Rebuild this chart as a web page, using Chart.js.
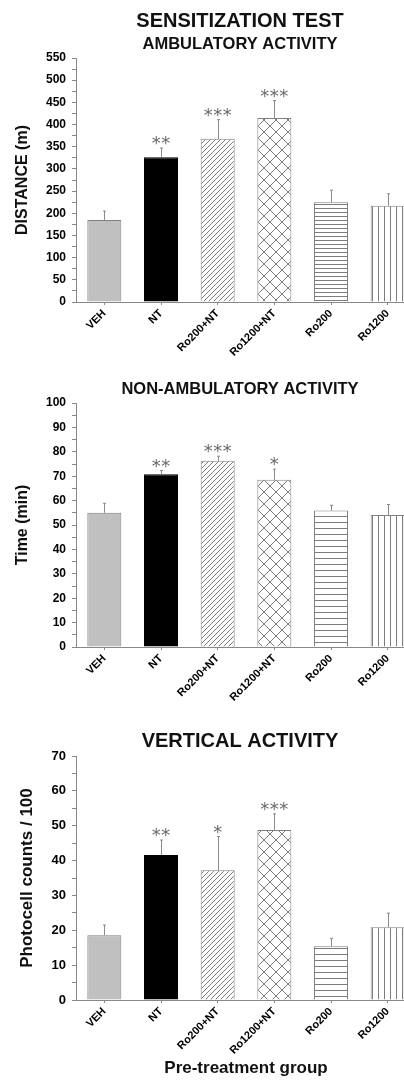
<!DOCTYPE html>
<html>
<head>
<meta charset="utf-8">
<script src="https://cdn.jsdelivr.net/npm/chart.js@4/dist/chart.umd.min.js"></script>
<style>
  html, body { margin: 0; padding: 0; background: #fff; overflow: hidden; width: 404px; height: 1081px; }
  .panel { position: absolute; left: 0; }
</style>
</head>
<body>
<div class="panel" style="top:0"><canvas id="amb" width="480" height="360"></canvas></div>
<div class="panel" style="top:360px"><canvas id="nonamb" width="480" height="360"></canvas></div>
<div class="panel" style="top:720px"><canvas id="vert" width="480" height="361"></canvas></div>
<script>
const groups = ['VEH', 'NT', 'Ro200+NT', 'Ro1200+NT', 'Ro200', 'Ro1200'];

// ambulatory activity, distance (m)
const ambMean = [185, 326, 368, 415, 225, 217];
const ambSem = [20, 21, 43, 39, 27, 27];
const ambStars = ['', '**', '***', '***', '', ''];
const ambMax = 550, ambStep = 50;

// non-ambulatory activity, time (min)
const nonAmbMean = [55, 70.8, 76.3, 68.5, 55.9, 54.1];
const nonAmbSem = [3.9, 1.5, 1.9, 4.4, 2.2, 4.3];
const nonAmbStars = ['', '**', '***', '*', '', ''];
const nonAmbMax = 100, nonAmbStep = 10;

// vertical activity, photocell counts / 100
const vertMean = [18.6, 41.6, 37.2, 48.8, 15.4, 20.9];
const vertSem = [2.9, 4.3, 9.7, 4.6, 2.3, 4.0];
const vertStars = ['', '**', '*', '***', '', ''];
const vertMax = 70, vertStep = 10;

const FONT = '"Liberation Sans", Arial, sans-serif';

function hatch(kind, size) {
  const c = document.createElement('canvas');
  c.width = size; c.height = size;
  const g = c.getContext('2d');
  g.fillStyle = '#fff';
  g.fillRect(0, 0, size, size);
  g.strokeStyle = '#7c7c7c';
  g.lineWidth = 1;
  g.beginPath();
  if (kind === 'h') { g.moveTo(0, 0.5); g.lineTo(size, 0.5); }
  if (kind === 'v') { g.moveTo(0.5, 0); g.lineTo(0.5, size); }
  if (kind === '/' || kind === 'x') {
    for (const k of [-size, 0, size]) { g.moveTo(k, size); g.lineTo(k + size, 0); }
  }
  if (kind === 'x') {
    for (const k of [-size, 0, size]) { g.moveTo(k, 0); g.lineTo(k + size, size); }
  }
  g.stroke();
  return g.createPattern(c, 'repeat');
}

// error bars (SEM, upper only) and significance stars
const semStars = {
  id: 'semStars',
  afterDatasetsDraw(chart, args, opts) {
    const ctx = chart.ctx;
    const y = chart.scales.y;
    const vals = chart.data.datasets[0].data;
    ctx.save();
    ctx.font = '18px "DejaVu Sans"';
    // keep the star glyphs ~3px clear of the error bar
    const lift = -ctx.measureText('*').actualBoundingBoxDescent;
    chart.getDatasetMeta(0).data.forEach((bar, i) => {
      const top = y.getPixelForValue(vals[i] + opts.sem[i]);
      const x = Math.round(bar.x) + 0.5;
      ctx.strokeStyle = '#8a8a8a';
      ctx.lineWidth = 1;
      ctx.beginPath();
      ctx.moveTo(x, bar.y);
      ctx.lineTo(x, top);
      ctx.moveTo(x - 1.5, top);
      ctx.lineTo(x + 1.5, top);
      ctx.stroke();
      const s = opts.stars[i];
      ctx.fillStyle = '#6a6a6a';
      ctx.textAlign = 'center';
      ctx.textBaseline = 'alphabetic';
      for (let k = 0; k < s.length; k++) {
        ctx.fillText('*', bar.x + (k - (s.length - 1) / 2) * 9.5, top - 3 + lift);
      }
    });
    ctx.restore();
  }
};

// panel headings, centred on the canvas
const panelTitle = {
  id: 'panelTitle',
  afterDraw(chart, args, opts) {
    const ctx = chart.ctx;
    ctx.save();
    ctx.fillStyle = '#111';
    ctx.textAlign = 'center';
    ctx.textBaseline = 'alphabetic';
    opts.lines.forEach(l => {
      ctx.font = 'bold ' + l.size + 'px ' + FONT;
      ctx.fillText(l.text, chart.width / 2, l.y);
    });
    ctx.restore();
  }
};

function makeChart(id, p) {
  new Chart(document.getElementById(id), {
    type: 'bar',
    data: {
      labels: groups,
      datasets: [{
        data: p.mean,
        backgroundColor: ['#c0c0c0', '#000', hatch('/', 5), hatch('x', 12), hatch('h', p.hGap), hatch('v', 6)],
        borderColor: ['#7f7f7f', '#000', '#808080', '#808080', '#808080', '#808080'],
        borderWidth: 1,
        barPercentage: 0.6,
        categoryPercentage: 1.0
      }]
    },
    plugins: [semStars, panelTitle],
    options: {
      responsive: false,
      animation: false,
      layout: { padding: { left: 0, right: 64, top: p.top, bottom: 0 } },
      plugins: {
        legend: { display: false },
        tooltip: { enabled: false },
        semStars: { sem: p.sem, stars: p.stars },
        panelTitle: { lines: p.titles }
      },
      scales: {
        x: {
          grid: { drawOnChartArea: false, offset: false, tickLength: 3, tickColor: '#888' },
          border: { color: '#888' },
          ticks: { maxRotation: 45, minRotation: 45, padding: 2, color: '#000',
                   font: { family: FONT, size: p.xFont, weight: 'bold' } },
          title: { display: !!p.xTitle, text: p.xTitle, color: '#111',
                   font: { family: FONT, size: 17, weight: 'bold' }, padding: { top: 0, bottom: 2 } },
          afterFit(s) { s.height = p.xH; }
        },
        y: {
          min: 0,
          max: p.max,
          ticks: {
            stepSize: p.step / 2,
            autoSkip: false,
            padding: 6,
            color: '#000',
            font: { family: FONT, size: p.yFont, weight: 'bold' },
            callback: v => (v % p.step === 0 ? v : '')
          },
          grid: { drawOnChartArea: false, tickLength: 4, tickColor: '#888' },
          border: { color: '#888' },
          title: { display: true, text: p.yTitle, color: '#111',
                   font: { family: FONT, size: p.yTitleSize, weight: 'bold' }, padding: { top: p.yTitlePad, bottom: 0 } },
          afterFit(s) { s.width = 76; }
        }
      }
    }
  });
}

makeChart('amb', {
  mean: ambMean, sem: ambSem, stars: ambStars, max: ambMax, step: ambStep,
  top: 58, xH: 58, hGap: 4, xFont: 11, yFont: 12,
  yTitle: 'DISTANCE (m)', yTitleSize: 16, yTitlePad: 13,
  titles: [{ text: 'SENSITIZATION TEST', size: 20, y: 27 }, { text: 'AMBULATORY ACTIVITY', size: 16.5, y: 49 }]
});

makeChart('nonamb', {
  mean: nonAmbMean, sem: nonAmbSem, stars: nonAmbStars, max: nonAmbMax, step: nonAmbStep,
  top: 43, xH: 73, hGap: 6, xFont: 11, yFont: 12,
  yTitle: 'Time (min)', yTitleSize: 16, yTitlePad: 13,
  titles: [{ text: 'NON-AMBULATORY ACTIVITY', size: 16.5, y: 34 }]
});

makeChart('vert', {
  mean: vertMean, sem: vertSem, stars: vertStars, max: vertMax, step: vertStep,
  top: 36, xH: 81, hGap: 6, xFont: 11, yFont: 13,
  yTitle: 'Photocell counts / 100', yTitleSize: 17, yTitlePad: 17,
  xTitle: 'Pre-treatment group',
  titles: [{ text: 'VERTICAL ACTIVITY', size: 20, y: 27 }]
});
</script>
</body>
</html>
